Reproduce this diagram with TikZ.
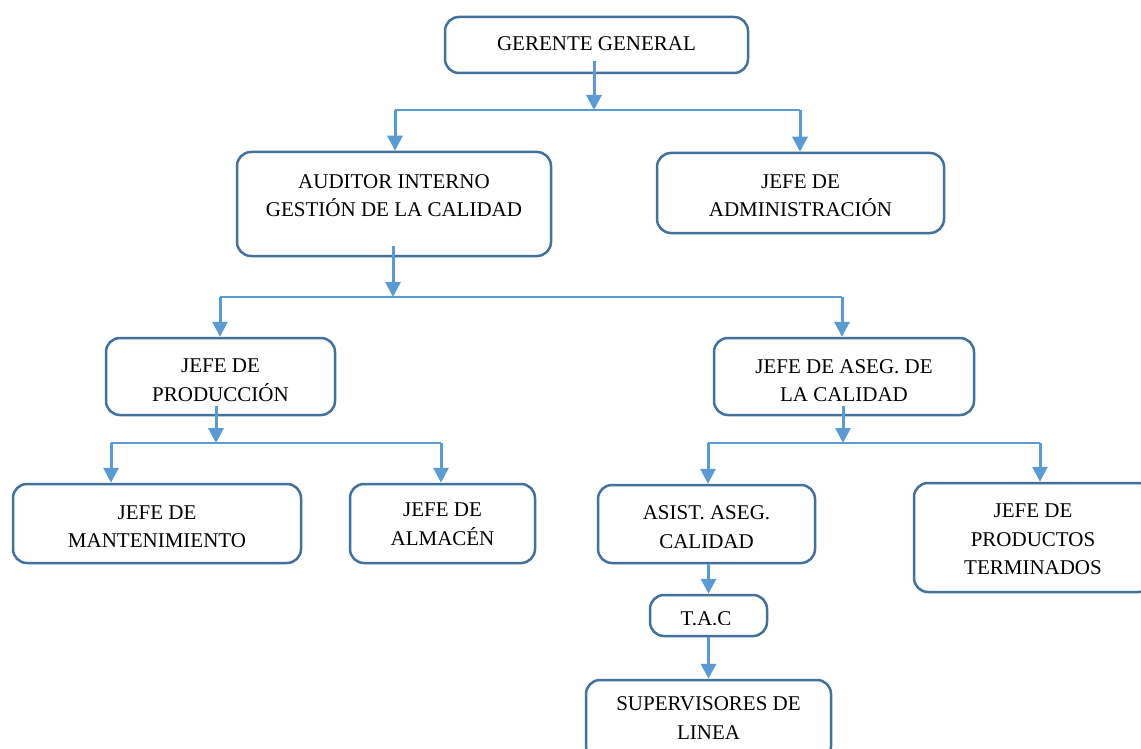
\documentclass[tikz,border=0pt]{standalone}
\usepackage{fontspec}
\setmainfont{Liberation Serif}
\usetikzlibrary{arrows.meta,calc}
\definecolor{boxline}{HTML}{41719C}
\definecolor{arrowc}{HTML}{5B9BD5}
\begin{document}
\begin{tikzpicture}[x=1pt,y=-1pt,
 box/.style={draw=boxline,line width=2.5pt,rounded corners=14pt,rectangle,inner sep=0pt,fill=white},
 txt/.style={font=\fontsize{21}{28.5}\selectfont,align=center,inner sep=0pt},
 arr/.style={draw=arrowc,line width=3pt,-{Triangle[width=15pt,length=15pt]}},
 bus/.style={draw=arrowc,line width=1.5pt}]
\clip (0,0) rectangle (1141,749);
\fill[white] (0,0) rectangle (1141,749);
% boxes
\node[box,minimum width=303pt,minimum height=56pt] (gg) at (596.5,45) {};
\node[txt] (ggt) at (596.5,44) {GERENTE GENERAL};
\node[box,minimum width=314pt,minimum height=104pt] (aud) at (394,204) {};
\node[txt] (audt) at (394,195.5) {AUDITOR INTERNO\\GESTIÓN DE LA CALIDAD};
\node[box,minimum width=287pt,minimum height=80pt] (adm) at (800.5,193) {};
\node[txt] (admt) at (800.5,195.5) {JEFE DE\\ADMINISTRACIÓN};
\node[box,minimum width=229pt,minimum height=77pt] (prod) at (220.5,376.5) {};
\node[txt] (prodt) at (220.5,380) {JEFE DE\\PRODUCCIÓN};
\node[box,minimum width=260pt,minimum height=77pt] (aseg) at (844,376.5) {};
\node[txt] (asegt) at (844,380.5) {JEFE DE ASEG. DE\\LA CALIDAD};
\node[box,minimum width=288pt,minimum height=79pt] (mant) at (157,523.5) {};
\node[txt] (mantt) at (157,526.5) {JEFE DE\\MANTENIMIENTO};
\node[box,minimum width=185pt,minimum height=79pt] (alm) at (442.5,523.5) {};
\node[txt] (almt) at (442.5,524) {JEFE DE\\ALMACÉN};
\node[box,minimum width=217pt,minimum height=78pt] (asist) at (706.5,524) {};
\node[txt] (asistt) at (706.5,527) {ASIST. ASEG.\\CALIDAD};
\node[box,minimum width=238pt,minimum height=109pt] (pt) at (1033,537.5) {};
\node[txt] (ptt) at (1033,539.5) {JEFE DE\\PRODUCTOS\\TERMINADOS};
\node[box,minimum width=117pt,minimum height=41pt] (tac) at (708.5,615.5) {};
\begin{scope}
\clip (650,595) rectangle (767,624.8);
\node[txt,anchor=base] (tact) at (706,625.5) {T.A.C};
\end{scope}
\node[box,minimum width=245pt,minimum height=80pt] (sup) at (708.5,720) {};
\node[txt] (supt) at (708.5,718) {SUPERVISORES DE\\LINEA};
% bus coordinates
\coordinate (b0) at (594,110);
\coordinate (b0l) at (395,110);
\coordinate (b0r) at (800,110);
\coordinate (b1) at (393,297);
\coordinate (b1l) at (220,297);
\coordinate (b1r) at (842,297);
\coordinate (b2) at (216,443);
\coordinate (b2l) at (111,443);
\coordinate (b2r) at (441,443);
\coordinate (b3) at (843,443);
\coordinate (b3l) at (708,443);
\coordinate (b3r) at (1040,443);
% level 1
\draw[bus] (b0l) -- (b0r);
\draw[arr] ($(b0 |- gg.south)+(0,-13)$) -- (b0);
\draw[arr] (b0l) -- (b0l |- aud.north);
\draw[arr] (b0r) -- (b0r |- adm.north);
% level 2
\draw[bus] (b1l) -- (b1r);
\draw[arr] ($(b1 |- aud.south)+(0,-11)$) -- (b1);
\draw[arr] (b1l) -- (b1l |- prod.north);
\draw[arr] (b1r) -- (b1r |- aseg.north);
% level 3 left
\draw[bus] (b2l) -- (b2r);
\draw[arr] ($(b2 |- prod.south)+(0,-10)$) -- (b2);
\draw[arr] (b2l) -- (b2l |- mant.north);
\draw[arr] (b2r) -- (b2r |- alm.north);
% level 3 right
\draw[bus] (b3l) -- (b3r);
\draw[arr] ($(b3 |- aseg.south)+(0,-10)$) -- (b3);
\draw[arr] (b3l) -- (b3l |- asist.north);
\draw[arr] (b3r) -- (b3r |- pt.north);
% chain
\draw[arr] (tac.north |- asist.south) -- (tac.north);
\draw[arr] (tac.south) -- (tac.south |- sup.north);
\end{tikzpicture}
\end{document}
